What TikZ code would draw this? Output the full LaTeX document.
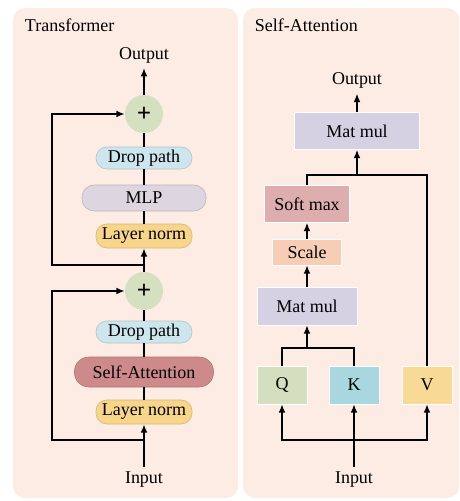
\documentclass[tikz,border=0pt]{standalone}
\usepackage{fontspec}
\setmainfont{Liberation Serif}
\usetikzlibrary{arrows.meta}

\definecolor{panelbg}{RGB}{252,236,228}
\definecolor{plusgreen}{RGB}{213,224,193}
\definecolor{dropblue}{RGB}{205,230,238}
\definecolor{mlplav}{RGB}{221,214,225}
\definecolor{normyellow}{RGB}{247,214,140}
\definecolor{attnred}{RGB}{206,137,138}
\definecolor{matlav}{RGB}{213,208,226}
\definecolor{softred}{RGB}{222,174,174}
\definecolor{scalepeach}{RGB}{247,206,181}
\definecolor{qgreen}{RGB}{211,223,190}
\definecolor{kblue}{RGB}{169,215,224}
\definecolor{vyellow}{RGB}{248,218,150}

\begin{document}
\begin{tikzpicture}[x=1cm,y=1cm]
\tikzset{
  every node/.style={font=\fontsize{12.8}{15}\selectfont},
  panel/.style={fill=panelbg,rounded corners=0.3cm},
  pill/.style={rounded corners=0.27cm,minimum height=0.55cm,inner sep=1pt,draw=#1!85!black,line width=0.4pt},
  block/.style={minimum height=0.95cm,inner sep=1pt,draw=white,line width=0.3pt},
  plusnode/.style={circle,fill=plusgreen,minimum size=0.95cm,inner sep=0pt,font=\fontsize{18}{18}\selectfont\bfseries},
  link/.style={line width=1.1pt},
  arrow/.style={-{Latex[length=2.1mm,width=1.7mm]},line width=1.1pt}
}
\useasboundingbox (0,0) rectangle (11.5,-12.525);
% panels
\fill[panel] (0.325,-0.2) rectangle (5.95,-12.45);
\fill[panel] (6.075,-0.2) rectangle (11.48,-12.45);
\node[anchor=west] (t_left) at (0.5,-0.62) {Transformer};
\node[anchor=west] (t_right) at (6.25,-0.62) {Self-Attention};

% transformer block
\node (n_out1) at (3.6,-1.38) {Output};
\node[plusnode] (n_plus1) at (3.6,-2.85) {+};
\node[pill=dropblue,fill=dropblue,minimum width=2.4cm] (n_dp1) at (3.6,-3.95) {Drop path};
\node[pill=mlplav,fill=mlplav,minimum width=3.1cm,minimum height=0.65cm,rounded corners=0.3cm] (n_mlp) at (3.6,-4.95) {MLP};
\node[pill=normyellow,fill=normyellow,minimum width=2.4cm,minimum height=0.6cm] (n_ln1) at (3.6,-5.9) {Layer norm};
\coordinate (c_split1) at (3.6,-6.625);
\coordinate (c_skip1) at (1.3,-6.625);
\node[plusnode] (n_plus2) at (3.6,-7.275) {+};
\node[pill=dropblue,fill=dropblue,minimum width=2.4cm] (n_dp2) at (3.6,-8.3) {Drop path};
\node[pill=attnred,fill=attnred,minimum width=3.475cm,minimum height=0.75cm,rounded corners=0.36cm] (n_sa) at (3.6,-9.3) {Self-Attention};
\node[pill=normyellow,fill=normyellow,minimum width=2.4cm,minimum height=0.6cm] (n_ln2) at (3.6,-10.3) {Layer norm};
\coordinate (c_split2) at (3.6,-11.0);
\coordinate (c_skip2) at (1.3,-11.0);
\node (n_in1) at (3.6,-12.0) {Input};

\draw[arrow] (n_plus1) -- (n_out1);
\draw[link] (n_plus1) -- (n_dp1);
\draw[link] (n_dp1) -- (n_mlp);
\draw[link] (n_mlp) -- (n_ln1);
\draw[arrow] (n_plus2) -- (n_ln1);
\draw[arrow] (c_split1) -- (c_skip1) |- (n_plus1);
\draw[link] (n_plus2) -- (n_dp2);
\draw[link] (n_dp2) -- (n_sa);
\draw[link] (n_sa) -- (n_ln2);
\draw[arrow] (n_in1) -- (n_ln2);
\draw[arrow] (c_split2) -- (c_skip2) |- (n_plus2);

% self-attention block
\node (n_out2) at (8.925,-2.02) {Output};
\node[block,fill=matlav,minimum width=3.125cm,minimum height=0.925cm] (n_mm1) at (8.925,-3.275) {Mat mul};
\coordinate (c_top) at (8.925,-4.375);
\node[block,fill=softred,minimum width=2.125cm,minimum height=0.925cm] (n_smax) at (7.675,-5.1) {Soft max};
\node[block,fill=scalepeach,minimum width=1.725cm,minimum height=0.65cm] (n_scale) at (7.675,-6.3) {Scale};
\node[block,fill=matlav,minimum width=2.5cm] (n_mm2) at (7.675,-7.65) {Mat mul};
\coordinate (c_qk) at (7.675,-8.7);
\node[block,fill=qgreen,minimum width=1.25cm] (n_q) at (7.05,-9.625) {Q};
\node[block,fill=kblue,minimum width=1.25cm] (n_k) at (8.85,-9.625) {K};
\node[block,fill=vyellow,minimum width=1.25cm] (n_v) at (10.675,-9.625) {V};
\coordinate (c_bot) at (8.85,-11.0);
\node (n_in2) at (8.85,-12.0) {Input};

\draw[arrow] (n_mm1) -- (n_out2);
\draw[arrow] (c_top) -- (n_mm1);
\draw[link] (n_smax) |- (c_top) -| (n_v);
\draw[arrow] (n_scale) -- (n_smax);
\draw[arrow] (n_mm2) -- (n_scale);
\draw[link] (n_q) |- (c_qk) -| (n_k);
\draw[arrow] (c_qk) -- (n_mm2);
\draw[arrow] (n_in2) -- (n_k);
\draw[arrow] (c_bot) -| (n_q);
\draw[arrow] (c_bot) -| (n_v);
\end{tikzpicture}
\end{document}
